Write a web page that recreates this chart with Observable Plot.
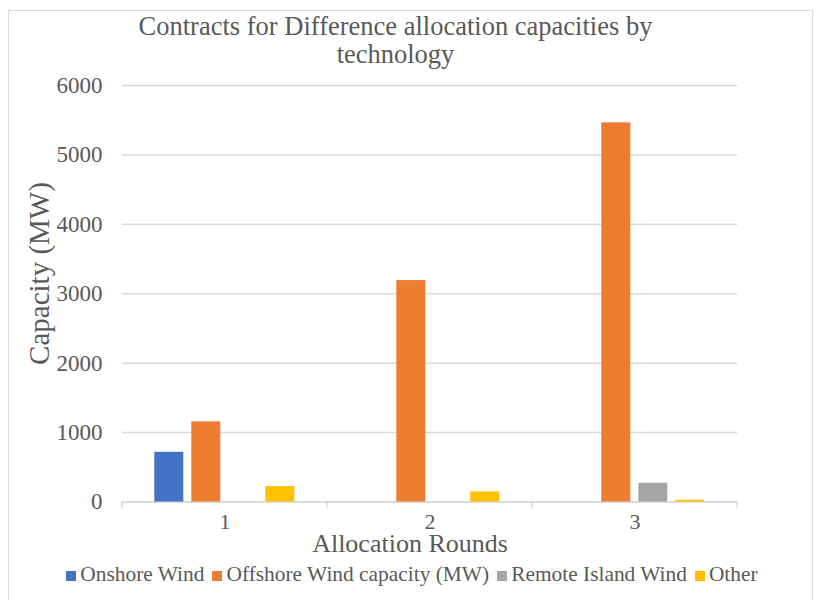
<!DOCTYPE html>
<html>
<head>
<meta charset="utf-8">
<script src="https://cdn.jsdelivr.net/npm/d3@7"></script>
<script src="https://cdn.jsdelivr.net/npm/@observablehq/plot@0.6"></script>
<style>
  html, body { margin: 0; padding: 0; background: #fff; }
  #chart {
    position: relative; width: 821px; height: 600px; overflow: hidden;
    font-family: "Liberation Serif", "Times New Roman", serif; color: #595959;
  }
  #frame {
    position: absolute; left: 8px; top: 10px; width: 805px; height: 620px;
    border: 1.5px solid #d9d9d9; box-sizing: border-box;
  }
  .title-line {
    position: absolute; left: 0; width: 791px;
    text-align: center; font-size: 26.5px; line-height: 28px; white-space: nowrap;
  }
  #plot { position: absolute; left: 0; top: 70px; }
  #ylabel {
    position: absolute; left: -61px; top: 259px; width: 200px; height: 29px;
    font-size: 29px; line-height: 29px; text-align: center; white-space: nowrap;
    transform: rotate(-90deg);
  }
  #xlabel {
    position: absolute; left: 210px; top: 531px; width: 400px;
    text-align: center; font-size: 26px; line-height: 26px;
  }
  #legend {
    position: absolute; left: 0; top: 564px; width: 824px;
    text-align: center; font-size: 21.4px; line-height: 21px; white-space: nowrap;
  }
  #legend .item { display: inline-block; margin: 0 4px; }
  #legend .sw {
    display: inline-block; width: 10px; height: 10px; margin-right: 4px;
    vertical-align: baseline;
  }
</style>
</head>
<body>
<div id="chart">
  <div id="frame"></div>
  <div class="title-line" style="top: 12px;">Contracts for Difference allocation capacities by</div>
  <div class="title-line" style="top: 40px;">technology</div>
  <div id="plot"></div>
  <div id="ylabel">Capacity (MW)</div>
  <div id="xlabel">Allocation Rounds</div>
  <div id="legend"></div>
</div>
<script>
// Allocation rounds and technologies
const rounds = ["1", "2", "3"];
const series = ["Onshore Wind", "Offshore Wind capacity (MW)", "Remote Island Wind", "Other"];
const colors = ["#4472C4", "#ED7D31", "#A5A5A5", "#FFC000"];

// Contracted capacity per round (MW)
const onshore = [716, 0, 0];
const offshore = [1155, 3190, 5462];
const remoteIsland = [0, 0, 270];
const other = [222, 145, 25];

const yTicks = [0, 1000, 2000, 3000, 4000, 5000, 6000];

const seriesValues = [onshore, offshore, remoteIsland, other];
const rows = rounds.flatMap((round, i) =>
  series.map((name, j) => ({round, series: name, value: seriesValues[j][i]}))
);

const plot = Plot.plot({
  width: 821,
  height: 466,
  marginTop: 15,
  marginBottom: 34.5,
  marginLeft: 121.7,
  marginRight: 84.3,
  style: {fontFamily: "'Liberation Serif', 'Times New Roman', serif", color: "#595959", background: "transparent", overflow: "visible"},
  fx: {domain: rounds, padding: 0, label: null},
  x: {domain: series, paddingInner: 0.216, paddingOuter: 0.878, axis: null},
  y: {domain: [0, 6000], label: null},
  color: {domain: series, range: colors},
  marks: [
    Plot.gridY(yTicks, {stroke: "#d9d9d9", strokeOpacity: 1, strokeWidth: 1.5}),
    Plot.axisY(yTicks, {tickSize: 0, tickPadding: 20, fontSize: 23, label: null, tickFormat: d => String(d)}),
    Plot.axisFx({anchor: "bottom", tickSize: 0, tickPadding: 11, fontSize: 22, label: null}),
    Plot.ruleY([0], {stroke: "#d9d9d9", strokeWidth: 1.5}),
    Plot.barY(rows, {fx: "round", x: "series", y: "value", fill: "series"})
  ]
});

document.getElementById("plot").appendChild(plot);

// Category separator ticks below the baseline, at the edges of each round
const fx = plot.scale("fx");
const y0 = plot.scale("y").apply(0);
const edges = rounds.map(r => fx.apply(r)).concat([fx.apply(rounds[rounds.length - 1]) + fx.bandwidth]);
d3.select(plot).append("g")
  .attr("stroke", "#d9d9d9")
  .attr("stroke-width", 1.5)
  .selectAll("line")
  .data(edges)
  .join("line")
  .attr("x1", d => d).attr("x2", d => d)
  .attr("y1", y0).attr("y2", y0 + 6);

// Legend
const legend = d3.select("#legend");
series.forEach((name, i) => {
  const item = legend.append("span").attr("class", "item");
  item.append("span").attr("class", "sw").style("background", colors[i]);
  item.append("span").text(name);
});
</script>
</body>
</html>
